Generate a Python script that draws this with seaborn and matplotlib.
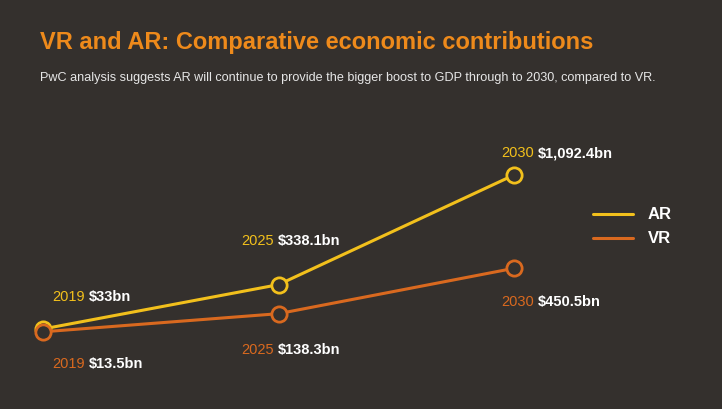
import matplotlib
matplotlib.use("Agg")
import matplotlib.pyplot as plt
import seaborn as sns
import pandas as pd

years = ["2019", "2025", "2030"]
ar_values = [33.0, 338.1, 1092.4]
vr_values = [13.5, 138.3, 450.5]
ar_labels = ["$33bn", "$338.1bn", "$1,092.4bn"]
vr_labels = ["$13.5bn", "$138.3bn", "$450.5bn"]

BG = "#34302d"
AR_C = "#f2c01c"
VR_C = "#d9691f"
TITLE_C = "#ee8a1b"

sns.set_theme(style="white")
plt.rcParams['font.family'] = ['Liberation Sans', 'DejaVu Sans']

df = pd.DataFrame({
    "year": years * 2,
    "value": ar_values + vr_values,
    "series": ["AR"] * 3 + ["VR"] * 3,
})

fig = plt.figure(figsize=(7.22, 4.10), dpi=100, facecolor=BG)
ax = fig.add_axes([43/722, 1-343.5/410, (514-43)/722, (343.5-176)/410])
ax.set_facecolor(BG)
sns.lineplot(data=df, x="year", y="value", hue="series", palette={"AR": AR_C, "VR": VR_C},
             marker="o", markersize=11, markerfacecolor=BG, markeredgewidth=2,
             linewidth=2.2, ax=ax, legend=False, sort=False)
for l in ax.lines:
    l.set_clip_on(False)
    l.set_markeredgecolor(l.get_color())
ax.set_xlim(0, 2)
ax.set_ylim(-60, 1092.4)
ax.axis("off")

fig.text(40/722, 1-42/410, "VR and AR: Comparative economic contributions", color=TITLE_C,
         fontsize=17, fontweight="bold", va="center")
fig.text(40/722, 1-78/410, "PwC analysis suggests AR will continue to provide the bigger boost to GDP through to 2030, compared to VR.",
         color="#e6e6e6", fontsize=9.1, va="center")

fig.canvas.draw()
r = fig.canvas.get_renderer()

def pair(xpx, ypx, year, val, col):
    t = fig.text(xpx/722, 1-ypx/410, str(year), color=col, fontsize=10.5, va="center")
    bb = t.get_window_extent(r)
    fig.text((bb.x1 + 4)/722, 1-ypx/410, val, color="white", fontsize=10.5,
             fontweight="bold", va="center")

pair(52, 297, years[0], ar_labels[0], AR_C)
pair(241, 241, years[1], ar_labels[1], AR_C)
pair(501, 153, years[2], ar_labels[2], AR_C)
pair(52, 364, years[0], vr_labels[0], VR_C)
pair(241, 350, years[1], vr_labels[1], VR_C)
pair(501, 302, years[2], vr_labels[2], VR_C)

for ypx, col, name in [(215, AR_C, "AR"), (239, VR_C, "VR")]:
    fig.add_artist(plt.Line2D([593/722, 633/722], [1-ypx/410]*2, color=col, lw=2.2))
    fig.text(648/722, 1-ypx/410, name, color="white", fontsize=12, fontweight="bold", va="center")

fig.savefig("out.png", dpi=100, facecolor=BG)
